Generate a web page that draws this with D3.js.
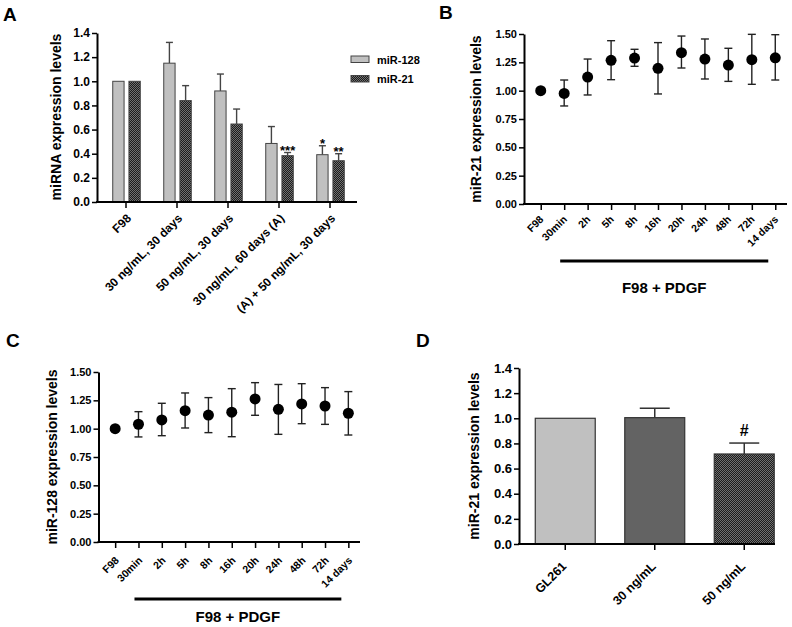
<!DOCTYPE html>
<html>
<head>
<meta charset="utf-8">
<script src="https://cdn.jsdelivr.net/npm/d3@7"></script>
<style>
  body { margin: 0; background: #fff; }
  svg text { font-family: "Liberation Sans", Arial, sans-serif; font-weight: bold; }
</style>
</head>
<body>
<svg id="fig" width="792" height="627"></svg>
<script>
// ---- data ----
var groupsA = ["F98", "30 ng/mL, 30 days", "50 ng/mL, 30 days", "30 ng/mL, 60 days (A)", "(A) + 50 ng/mL, 30 days"];
var seriesA = ["miR-128", "miR-21"];
var mir128A = [1.00, 1.15, 0.92, 0.485, 0.392];
var mir128ErrA = [0, 0.172, 0.14, 0.14, 0.074];
var mir21A = [1.00, 0.84, 0.646, 0.384, 0.342];
var mir21ErrA = [0, 0.124, 0.124, 0.026, 0.058];
var mir128StarsA = ["", "", "", "", "*"];
var mir21StarsA = ["", "", "", "***", "**"];

var timeLabels = ["F98", "30min", "2h", "5h", "8h", "16h", "20h", "24h", "48h", "72h", "14 days"];
var mir21B = [1.00, 0.976, 1.12, 1.268, 1.288, 1.197, 1.335, 1.279, 1.226, 1.273, 1.29];
var mir21BHi = [null, 1.094, 1.279, 1.441, 1.365, 1.424, 1.482, 1.456, 1.374, 1.497, 1.494];
var mir21BLo = [null, 0.865, 0.962, 1.097, 1.215, 0.971, 1.20, 1.103, 1.082, 1.056, 1.094];

var mir128C = [1.00, 1.039, 1.077, 1.159, 1.12, 1.145, 1.262, 1.171, 1.218, 1.20, 1.136];
var mir128CHi = [null, 1.15, 1.224, 1.315, 1.274, 1.353, 1.406, 1.39, 1.397, 1.362, 1.327];
var mir128CLo = [null, 0.927, 0.938, 1.006, 0.965, 0.929, 1.118, 0.95, 1.044, 1.038, 0.944];

var groupsD = ["GL261", "30 ng/mL", "50 ng/mL"];
var mir21D = [1.00, 1.005, 0.716];
var mir21ErrD = [0, 0.075, 0.087];
var marksD = ["", "", "#"];

var ticks14 = [0, 0.2, 0.4, 0.6, 0.8, 1.0, 1.2, 1.4];
var ticks15 = [0, 0.25, 0.5, 0.75, 1.0, 1.25, 1.5];

var svg = d3.select("#fig");

var defs = svg.append("defs");
var pat = defs.append("pattern").attr("id", "checker")
    .attr("width", 2).attr("height", 2).attr("patternUnits", "userSpaceOnUse");
pat.append("rect").attr("width", 2).attr("height", 2).attr("fill", "#1c1c1c");
pat.append("rect").attr("width", 1).attr("height", 1).attr("fill", "#707070");
pat.append("rect").attr("x", 1).attr("y", 1).attr("width", 1).attr("height", 1).attr("fill", "#707070");

var GRAY = "#c0c0c0", DARK = "url(#checker)", MID = "#636363";

function yAxis(g, y, x0, ticks, fmt, fs) {
  var a = g.append("g").attr("transform", "translate(" + x0 + ",0)")
    .call(d3.axisLeft(y).tickValues(ticks).tickFormat(d3.format(fmt)).tickSize(5).tickSizeOuter(0));
  a.select(".domain").attr("stroke-width", 2).attr("stroke", "#000");
  a.selectAll(".tick line").attr("stroke-width", 1.5);
  a.selectAll(".tick text").attr("font-size", fs).attr("x", -7).attr("fill", "#000")
    .attr("font-family", "Liberation Sans, Arial, sans-serif");
  return a;
}

function xAxis(g, x, y0, xStart, xEnd, dx, dy, fs) {
  var a = g.append("g").attr("transform", "translate(0," + y0 + ")")
    .call(d3.axisBottom(x).tickSize(6).tickSizeOuter(0));
  a.select(".domain").remove();
  a.selectAll(".tick line").attr("stroke-width", 1.5);
  a.selectAll(".tick text")
    .attr("font-size", fs).attr("fill", "#000")
    .attr("font-family", "Liberation Sans, Arial, sans-serif")
    .attr("text-anchor", "end")
    .attr("y", 0).attr("dy", 0)
    .attr("transform", "translate(" + dx + "," + dy + ") rotate(-45)");
  g.append("line").attr("x1", xStart - 1).attr("x2", xEnd).attr("y1", y0).attr("y2", y0)
    .attr("stroke", "#000").attr("stroke-width", 2);
}

function yTitle(g, text, x, yc, fs) {
  g.append("text").attr("transform", "translate(" + x + "," + yc + ") rotate(-90)")
    .attr("text-anchor", "middle").attr("dy", "0.35em").attr("font-size", fs).text(text);
}

function panelLabel(text, x, y) {
  svg.append("text").attr("x", x).attr("y", y).attr("font-size", 19).text(text);
}

// ---------------- Panel A ----------------
(function () {
  var g = svg.append("g");
  var y = d3.scaleLinear().domain([0, 1.4]).range([202, 33]);
  var x = d3.scaleBand().domain(groupsA).range([100.5, 355.5]).padding(0);
  var xs = d3.scaleBand().domain(seriesA).range([x.bandwidth() * 0.24, x.bandwidth() * 0.78]).paddingInner(0.3);

  var rows = groupsA.map(function (c, i) {
    return [
      { g: c, s: "miR-128", v: mir128A[i], e: mir128ErrA[i], star: mir128StarsA[i], fill: GRAY },
      { g: c, s: "miR-21", v: mir21A[i], e: mir21ErrA[i], star: mir21StarsA[i], fill: DARK }
    ];
  });
  var flat = d3.merge(rows);

  // error bars (upper only)
  var eb = g.selectAll(".eb").data(flat.filter(function (d) { return d.e > 0; })).enter().append("g")
    .attr("stroke", "#444").attr("stroke-width", 1.4);
  eb.append("line")
    .attr("x1", function (d) { return x(d.g) + xs(d.s) + xs.bandwidth() / 2; })
    .attr("x2", function (d) { return x(d.g) + xs(d.s) + xs.bandwidth() / 2; })
    .attr("y1", function (d) { return y(d.v); })
    .attr("y2", function (d) { return y(d.v + d.e); });
  eb.append("line")
    .attr("x1", function (d) { return x(d.g) + xs(d.s) + xs.bandwidth() / 2 - 3.5; })
    .attr("x2", function (d) { return x(d.g) + xs(d.s) + xs.bandwidth() / 2 + 3.5; })
    .attr("y1", function (d) { return y(d.v + d.e); })
    .attr("y2", function (d) { return y(d.v + d.e); });

  g.selectAll(".bar").data(flat).enter().append("rect")
    .attr("x", function (d) { return x(d.g) + xs(d.s); })
    .attr("width", xs.bandwidth())
    .attr("y", function (d) { return y(d.v); })
    .attr("height", function (d) { return y(0) - y(d.v); })
    .attr("fill", function (d) { return d.fill; })
    .attr("stroke", "#444").attr("stroke-width", 1);

  g.selectAll(".star").data(flat.filter(function (d) { return d.star; })).enter().append("text")
    .attr("x", function (d) { return x(d.g) + xs(d.s) + xs.bandwidth() / 2; })
    .attr("y", function (d) { return y(d.v + d.e) + 2; })
    .attr("text-anchor", "middle").attr("font-size", 13)
    .text(function (d) { return d.star; });

  yAxis(g, y, 97, ticks14, ".1f", 12);
  xAxis(g, x, 202, 97, 357, 6, 17, 12);
  yTitle(g, "miRNA expression levels", 56, 117, 14);

  // legend
  var lg = g.append("g");
  var fills = [GRAY, DARK];
  seriesA.forEach(function (s, i) {
    lg.append("rect").attr("x", 351).attr("y", 56 + i * 19.5).attr("width", 18).attr("height", 6.5)
      .attr("fill", fills[i]).attr("stroke", "#444").attr("stroke-width", 1);
    lg.append("text").attr("x", 377).attr("y", 63.5 + i * 19.5).attr("font-size", 11).text(s);
  });
  panelLabel("A", 3, 21);
})();

// ---------------- dot panels B, C ----------------
function dotPanel(opts) {
  var g = svg.append("g");
  var y = d3.scaleLinear().domain([0, 1.5]).range([opts.y0, opts.y1]);
  var x = d3.scalePoint().domain(timeLabels).range([opts.xa + 5, opts.xe]).padding(0.5);
  var pts = timeLabels.map(function (t, i) {
    return { t: t, v: opts.vals[i], hi: opts.hi[i], lo: opts.lo[i] };
  });
  var eb = g.selectAll(".eb").data(pts.filter(function (d) { return d.hi != null; })).enter().append("g")
    .attr("stroke", "#222").attr("stroke-width", 1.4);
  eb.append("line")
    .attr("x1", function (d) { return x(d.t); }).attr("x2", function (d) { return x(d.t); })
    .attr("y1", function (d) { return y(d.lo); }).attr("y2", function (d) { return y(d.hi); });
  ["hi", "lo"].forEach(function (k) {
    eb.append("line")
      .attr("x1", function (d) { return x(d.t) - 4; }).attr("x2", function (d) { return x(d.t) + 4; })
      .attr("y1", function (d) { return y(d[k]); }).attr("y2", function (d) { return y(d[k]); });
  });
  g.selectAll(".pt").data(pts).enter().append("circle")
    .attr("cx", function (d) { return x(d.t); })
    .attr("cy", function (d) { return y(d.v); })
    .attr("r", 5.5).attr("fill", "#000");

  yAxis(g, y, opts.xa, ticks15, ".2f", 11);
  xAxis(g, x, opts.y0, opts.xa, opts.xe, opts.ldx, opts.ldy, 10.5);
  yTitle(g, opts.title, opts.tx, (opts.y0 + opts.y1) / 2, 14);

  var lx0 = x("30min") - 4, lx1 = x("14 days") - 7;
  g.append("line").attr("x1", lx0).attr("x2", lx1).attr("y1", opts.barY).attr("y2", opts.barY)
    .attr("stroke", "#000").attr("stroke-width", 3);
  g.append("text").attr("x", (lx0 + lx1) / 2).attr("y", opts.barY + opts.textDy)
    .attr("text-anchor", "middle").attr("font-size", 15).text("F98 + PDGF");
}

dotPanel({ vals: mir21B, hi: mir21BHi, lo: mir21BLo, y0: 204, y1: 34, xa: 524, xe: 787,
  title: "miR-21 expression levels", tx: 476, ldx: 3, ldy: 16, barY: 261, textDy: 32 });
panelLabel("B", 439, 19);

dotPanel({ vals: mir128C, hi: mir128CHi, lo: mir128CLo, y0: 542, y1: 372, xa: 98.5, xe: 360,
  title: "miR-128 expression levels", tx: 52, ldx: 4, ldy: 19, barY: 599, textDy: 23 });
panelLabel("C", 6, 347);

// ---------------- Panel D ----------------
(function () {
  var g = svg.append("g");
  var y = d3.scaleLinear().domain([0, 1.4]).range([544, 368]);
  var x = d3.scaleBand().domain(groupsD).range([520.5, 789]).paddingInner(0.33).paddingOuter(0.165);
  var fills = [GRAY, MID, DARK];
  var rows = groupsD.map(function (c, i) { return { g: c, v: mir21D[i], e: mir21ErrD[i], m: marksD[i], fill: fills[i] }; });

  var eb = g.selectAll(".eb").data(rows.filter(function (d) { return d.e > 0; })).enter().append("g")
    .attr("stroke", "#333").attr("stroke-width", 1.5);
  eb.append("line")
    .attr("x1", function (d) { return x(d.g) + x.bandwidth() / 2; })
    .attr("x2", function (d) { return x(d.g) + x.bandwidth() / 2; })
    .attr("y1", function (d) { return y(d.v); }).attr("y2", function (d) { return y(d.v + d.e); });
  eb.append("line")
    .attr("x1", function (d) { return x(d.g) + x.bandwidth() / 2 - 15; })
    .attr("x2", function (d) { return x(d.g) + x.bandwidth() / 2 + 15; })
    .attr("y1", function (d) { return y(d.v + d.e); }).attr("y2", function (d) { return y(d.v + d.e); });

  g.selectAll(".bar").data(rows).enter().append("rect")
    .attr("x", function (d) { return x(d.g); })
    .attr("width", x.bandwidth())
    .attr("y", function (d) { return y(d.v); })
    .attr("height", function (d) { return y(0) - y(d.v); })
    .attr("fill", function (d) { return d.fill; })
    .attr("stroke", "#333").attr("stroke-width", 1.2);

  g.selectAll(".mk").data(rows.filter(function (d) { return d.m; })).enter().append("text")
    .attr("x", function (d) { return x(d.g) + x.bandwidth() / 2; })
    .attr("y", function (d) { return y(d.v + d.e) - 7; })
    .attr("text-anchor", "middle").attr("font-size", 16).attr("font-weight", "normal")
    .text(function (d) { return d.m; });

  yAxis(g, y, 519, ticks14, ".1f", 13);
  xAxis(g, x, 544, 519, 775, 2, 23, 12.5);
  yTitle(g, "miR-21 expression levels", 474, 456, 14);
  panelLabel("D", 416, 347);
})();
</script>
</body>
</html>
